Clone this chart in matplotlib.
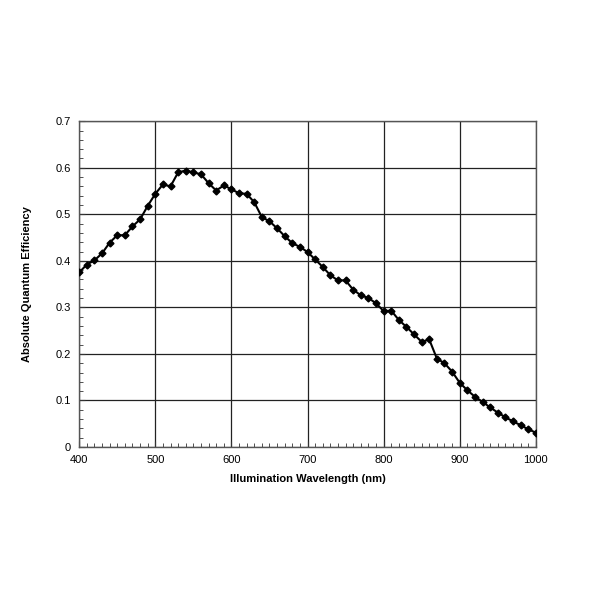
import numpy as np
import matplotlib.pyplot as plt
from matplotlib.ticker import MultipleLocator

plt.rcParams['font.family'] = ['Liberation Sans', 'DejaVu Sans']

# wavelength every 10 nm
wavelength = np.arange(400, 1001, 10)
qe = [0.375, 0.392, 0.401, 0.416, 0.439, 0.455, 0.455, 0.474, 0.489, 0.518,
      0.544, 0.564, 0.560, 0.590, 0.594, 0.590, 0.586, 0.567, 0.551, 0.562,
      0.554, 0.545, 0.544, 0.526, 0.494, 0.485, 0.470, 0.453, 0.438, 0.430,
      0.419, 0.403, 0.387, 0.369, 0.358, 0.358, 0.338, 0.326, 0.320, 0.309,
      0.292, 0.293, 0.273, 0.258, 0.242, 0.226, 0.231, 0.190, 0.180, 0.162,
      0.138, 0.122, 0.108, 0.097, 0.085, 0.074, 0.064, 0.055, 0.047, 0.038,
      0.031]

x_ticks = [400, 500, 600, 700, 800, 900, 1000]
y_ticks = [0, 0.1, 0.2, 0.3, 0.4, 0.5, 0.6, 0.7]
y_ticklabels = ['0', '0.1', '0.2', '0.3', '0.4', '0.5', '0.6', '0.7']

fig = plt.figure(figsize=(6, 6), dpi=100)
ax = fig.add_axes([0.132, 0.255, 0.761, 0.543])

ax.plot(wavelength, qe, color='black', lw=1.5, marker='D', ms=3.5, zorder=3)

ax.set_xlim(400, 1000)
ax.set_ylim(0, 0.7)
ax.set_xticks(x_ticks)
ax.set_yticks(y_ticks)
ax.set_yticklabels(y_ticklabels)
ax.xaxis.set_minor_locator(MultipleLocator(10))
ax.yaxis.set_minor_locator(MultipleLocator(0.02))
ax.tick_params(which='both', direction='in', labelsize=8, color='#333333')
ax.tick_params(which='major', length=4, pad=6)
ax.tick_params(which='minor', length=3)
ax.tick_params(top=False, right=False)

ax.grid(True, which='major', color='#222222', lw=0.9)
for s in ax.spines.values():
    s.set_color('#555555')
    s.set_linewidth(1.0)

ax.set_xlabel('Illumination Wavelength (nm)', fontsize=8, fontweight='bold', labelpad=6)
ax.set_ylabel('Absolute Quantum Efficiency', fontsize=8, fontweight='bold', labelpad=17)

fig.savefig('out.png', dpi=100)
